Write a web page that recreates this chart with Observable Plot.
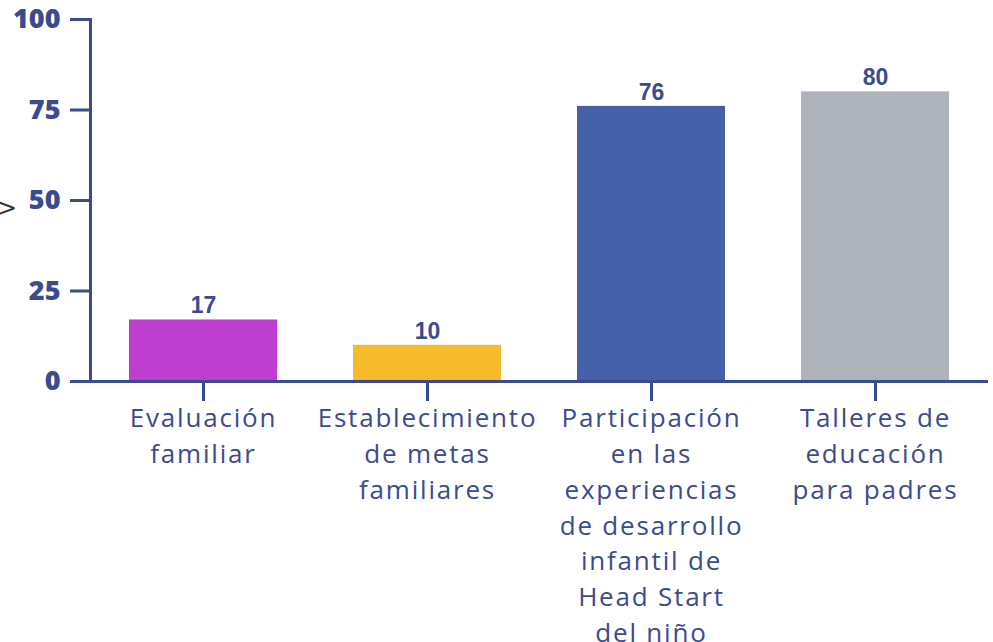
<!DOCTYPE html>
<html>
<head>
<meta charset="utf-8">
<script src="https://cdn.jsdelivr.net/npm/d3@7"></script>
<script src="https://cdn.jsdelivr.net/npm/@observablehq/plot@0.6"></script>
<style>
  html, body { margin: 0; padding: 0; background: #fff; }
  #chart { position: relative; width: 993px; height: 642px; overflow: hidden; }
  #chart svg { display: block; }
  #chart g[aria-label="x-axis tick label"] { letter-spacing: 1.8px; }
  .side { position: absolute; left: -3px; top: 194px; font: 24px "DejaVu Sans"; color: #333; }
</style>
</head>
<body>
<div id="chart"><span class="side">&gt;</span></div>
<script>
const categories = [
  "Evaluación\nfamiliar",
  "Establecimiento\nde metas\nfamiliares",
  "Participación\nen las\nexperiencias\nde desarrollo\ninfantil de\nHead Start\ndel niño",
  "Talleres de\neducación\npara padres"
];
const values = [17, 10, 76, 80];
const colors = ["#bd3ecf", "#f6bb2a", "#4560ab", "#aeb2ba"];
const yTicks = [0, 25, 50, 75, 100];

const data = categories.map((c, i) => ({cat: c, value: values[i], color: colors[i]}));
const axisColor = "#3a4b8e";

const chart = Plot.plot({
  width: 993,
  height: 642,
  marginLeft: 90,
  marginRight: 5,
  marginTop: 19,
  marginBottom: 261,
  style: {background: "transparent", overflow: "visible"},
  x: {domain: categories, paddingInner: 0.34, paddingOuter: 0.17},
  y: {domain: [0, 100]},
  marks: [
    Plot.barY(data, {x: "cat", y: "value", fill: "color"}),
    Plot.text(data, {x: "cat", y: "value", text: d => String(d.value), dy: -14,
      fill: axisColor, fontSize: 23, fontWeight: "bold", fontFamily: "Liberation Sans"}),
    Plot.axisY({ticks: yTicks, tickSize: 20, tickPadding: 10, stroke: axisColor, strokeWidth: 3,
      fill: axisColor, fontSize: 27, fontWeight: 800, fontFamily: "Open Sans", label: null}),
    Plot.axisX({tickSize: 20, tickPadding: 0, stroke: axisColor, strokeWidth: 3,
      fill: axisColor, fontSize: 26, fontFamily: "Open Sans", fontWeight: 400,
      lineHeight: 1.38, label: null}),
    Plot.frame({anchor: "left", stroke: axisColor, strokeWidth: 3}),
    Plot.ruleY([0], {stroke: axisColor, strokeWidth: 3})
  ]
});
document.getElementById("chart").appendChild(chart);
</script>
</body>
</html>
